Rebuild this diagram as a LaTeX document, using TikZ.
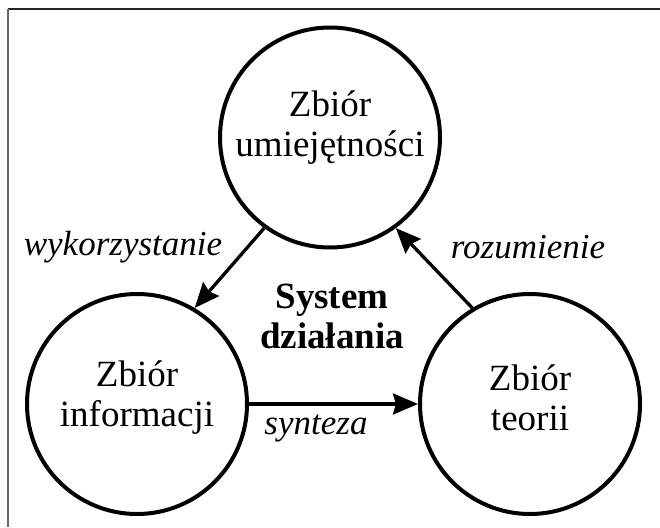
\documentclass[tikz,border=0pt]{standalone}
\usepackage{fontspec}
\setmainfont{Liberation Serif}
\usetikzlibrary{arrows.meta}
\begin{document}
\begin{tikzpicture}[x=1pt,y=-1pt,
  blob/.style={circle,draw,line width=4pt,minimum size=220pt,inner sep=0pt},
  caption/.style={align=center,inner sep=0pt,font=\fontsize{37}{40}\selectfont},
  flow/.style={line width=3.3pt,-{Stealth[length=25pt,width=21pt,inset=3pt]}},
  tag/.style={inner sep=0pt,font=\fontsize{35}{40}\selectfont\itshape},
  frameline/.style={line width=2pt}]
\useasboundingbox (0,0) rectangle (660,527);

% partial frame: top and left edges
\coordinate (fTL) at (8,9.5);
\coordinate (fTR) at (660,9.5);
\coordinate (fBL) at (8,527);
\draw[frameline,black!85] (fTL) -- (fTR);
\draw[frameline,black!60] (fTL) -- (fBL);

% the three sets
\node[blob] (top) at (330,137.5) {};
\node[blob] (left) at (137,404) {};
\node[blob] (right) at (530,404) {};

\node[caption] (topT) at (330,128) {Zbiór\\umiejętności};
\node[caption] (leftT) at (137,398) {Zbiór\\informacji};
\node[caption] (rightT) at (530,398) {Zbiór\\teorii};

% centre title
\node[caption,font=\fontsize{37}{40}\selectfont\bfseries] (mid) at (332,316) {System\\działania};

% relations
\draw[flow] (top.234) -- (left.59);
\draw[flow] (right.121) -- (top.306);
\draw[flow] (left.east) -- (right.west);

\node[tag] (use) at (123,247) {wykorzystanie};
\node[tag] (und) at (528,247) {rozumienie};
\node[tag] (syn) at (316,428) {synteza};
\end{tikzpicture}
\end{document}
